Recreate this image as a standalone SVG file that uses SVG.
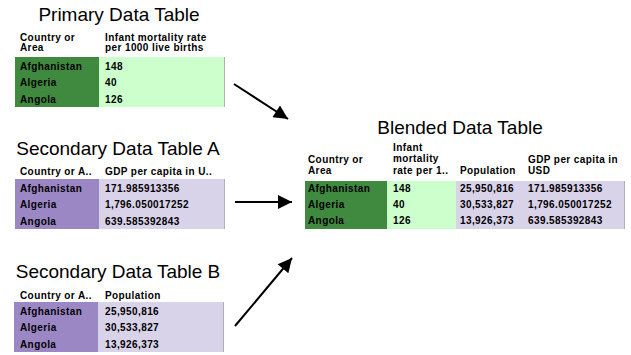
<svg xmlns="http://www.w3.org/2000/svg" width="631" height="355" viewBox="0 0 631 355">
<style>
.title{font-family:"Liberation Sans",Arial,sans-serif;font-size:19px;fill:#000;text-anchor:middle}
.t{font-family:"Liberation Sans",Arial,sans-serif;font-size:10px;font-weight:bold;fill:#000;letter-spacing:0.4px}
.dg{fill:#3f8a3f}
.lg{fill:#ccffcc}
.dp{fill:#9c87c5}
.lp{fill:#d9d3ea}
.edge{stroke:#b0b0b0;stroke-width:1}
.conn{stroke:#000;stroke-width:2;fill:none}
</style>
<defs>
<marker id="ah" viewBox="0 0 10 10" refX="10" refY="5" markerWidth="8" markerHeight="7" markerUnits="strokeWidth" orient="auto">
<path d="M0,0 L10,5 L0,10 z" fill="#000"/>
</marker>
</defs>
<rect width="631" height="355" fill="#fff"/>
<g id="primary">
<text class="title" x="119" y="21">Primary Data Table</text>
<text class="t" x="20" y="41">Country or</text>
<text class="t" x="20" y="51">Area</text>
<text class="t" x="105" y="41">Infant mortality rate</text>
<text class="t" x="105" y="51">per 1000 live births</text>
<rect class="dg" x="15" y="57" width="84" height="50"/>
<rect class="lg" x="99" y="57" width="125" height="50"/>
<line class="edge" x1="224.5" y1="57" x2="224.5" y2="107"/>
<text class="t" x="20" y="70">Afghanistan</text>
<text class="t" x="20" y="86">Algeria</text>
<text class="t" x="20" y="103">Angola</text>
<text class="t" x="105" y="70">148</text>
<text class="t" x="105" y="86">40</text>
<text class="t" x="105" y="103">126</text>
</g>
<g id="secondaryA">
<text class="title" x="118" y="155">Secondary Data Table A</text>
<text class="t" x="20" y="175">Country or A..</text>
<text class="t" x="105" y="175">GDP per capita in U..</text>
<rect class="dp" x="15" y="179" width="84" height="50"/>
<rect class="lp" x="99" y="179" width="125" height="50"/>
<line class="edge" x1="224.5" y1="179" x2="224.5" y2="229"/>
<text class="t" x="20" y="192">Afghanistan</text>
<text class="t" x="20" y="208">Algeria</text>
<text class="t" x="20" y="225">Angola</text>
<text class="t" x="105" y="192">171.985913356</text>
<text class="t" x="105" y="208">1,796.050017252</text>
<text class="t" x="105" y="225">639.585392843</text>
</g>
<g id="secondaryB">
<text class="title" x="118" y="278">Secondary Data Table B</text>
<text class="t" x="20" y="299">Country or A..</text>
<text class="t" x="105" y="299">Population</text>
<rect class="dp" x="14" y="302" width="84" height="50"/>
<rect class="lp" x="98" y="302" width="125" height="50"/>
<line class="edge" x1="223.5" y1="302" x2="223.5" y2="352"/>
<text class="t" x="20" y="315">Afghanistan</text>
<text class="t" x="20" y="331">Algeria</text>
<text class="t" x="20" y="348">Angola</text>
<text class="t" x="105" y="315">25,950,816</text>
<text class="t" x="105" y="331">30,533,827</text>
<text class="t" x="105" y="348">13,926,373</text>
</g>
<g id="blended">
<text class="title" x="460" y="134">Blended Data Table</text>
<text class="t" x="308" y="163">Country or</text>
<text class="t" x="308" y="174">Area</text>
<text class="t" x="393" y="151">Infant</text>
<text class="t" x="393" y="162">mortality</text>
<text class="t" x="393" y="174">rate per 1..</text>
<text class="t" x="460" y="174">Population</text>
<text class="t" x="528" y="163">GDP per capita in</text>
<text class="t" x="528" y="174">USD</text>
<rect class="dg" x="305" y="181" width="82" height="48"/>
<rect class="lg" x="387" y="181" width="69" height="48"/>
<rect class="lp" x="456" y="181" width="168" height="48"/>
<line class="edge" x1="624.5" y1="181" x2="624.5" y2="229"/>
<text class="t" x="308" y="192">Afghanistan</text>
<text class="t" x="308" y="208">Algeria</text>
<text class="t" x="308" y="224">Angola</text>
<text class="t" x="393" y="192">148</text>
<text class="t" x="393" y="208">40</text>
<text class="t" x="393" y="224">126</text>
<text class="t" x="460" y="192">25,950,816</text>
<text class="t" x="460" y="208">30,533,827</text>
<text class="t" x="460" y="224">13,926,373</text>
<text class="t" x="528" y="192">171.985913356</text>
<text class="t" x="528" y="208">1,796.050017252</text>
<text class="t" x="528" y="224">639.585392843</text>
</g>
<g id="connectors">
<line class="conn" x1="234" y1="84" x2="288" y2="119" marker-end="url(#ah)"/>
<line class="conn" x1="235" y1="202" x2="292" y2="202" marker-end="url(#ah)"/>
<line class="conn" x1="235" y1="326" x2="292" y2="258" marker-end="url(#ah)"/>
</g>
</svg>
